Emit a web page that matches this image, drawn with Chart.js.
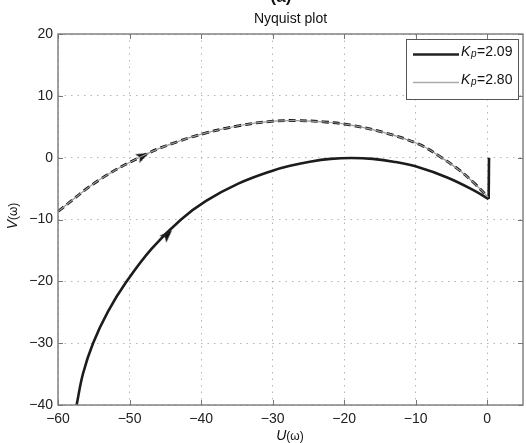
<!DOCTYPE html>
<html><head><meta charset="utf-8">
<script src="https://cdn.jsdelivr.net/npm/chart.js@4.4.1/dist/chart.umd.min.js"></script>
<style>html,body{margin:0;padding:0;background:#fff;overflow:hidden}#wrap{position:relative;width:526px;height:443px}</style>
</head><body><div id="wrap"><canvas id="c" width="526" height="443"></canvas></div>
<script>
// ---- data ----
const xTicks = [-60, -50, -40, -30, -20, -10, 0];
const yTicks = [-40, -30, -20, -10, 0, 10, 20];

// K_p = 2.09 (solid black)
const solidU = [-57.4, -56.5, -55.1, -53.0, -50.4, -46.9, -42.8, -39.3, -34.8, -30.0, -27.4, -24.8, -21.9, -19.0, -16.0, -13.1, -9.6, -5.6, -2.0, 0.2];
const solidV = [-40.0, -34.9, -30.0, -24.85, -20.0, -14.7, -10.0, -7.0, -4.2, -2.1, -1.27, -0.65, -0.2, -0.05, -0.2, -0.65, -1.55, -3.2, -5.2, -6.7];
const tailU = [0.2, 0.25];
const tailV = [-6.7, 0.0];

// K_p = 2.80 (grey line with dashes)
const dashU = [-60.0, -54.1, -47.6, -43.5, -39.3, -34.6, -29.9, -26.6, -22.9, -19.2, -14.4, -9.6, -6.7, -3.8, -1.8, 0.15];
const dashV = [-8.7, -3.5, 0.6, 2.5, 4.0, 5.2, 5.9, 6.0, 5.8, 5.3, 4.05, 2.2, 0.25, -2.1, -4.15, -6.4];

// direction arrows
const arrowU = [-48.1, -44.7];
const arrowV = [0.3, -12.45];
const arrowRot = [64, 45];

const legendLabels = ['2.09', '2.80'];

const pts = (xs, ys) => xs.map((x, i) => ({x: x, y: ys[i]}));
const fmt = v => v < 0 ? '\u2212' + Math.abs(v) : String(v);
const FONT = '"Liberation Sans", Arial, Helvetica, sans-serif';

// arrow-head glyph (points up, rotated per point by Chart.js)
const arrowImg = document.createElement('canvas');
arrowImg.width = 16; arrowImg.height = 16;
(function () {
  const g = arrowImg.getContext('2d');
  g.fillStyle = '#111';
  g.beginPath();
  g.moveTo(8, 1.5); g.lineTo(12.8, 14.5); g.lineTo(8, 11.5); g.lineTo(3.2, 14.5);
  g.closePath(); g.fill();
})();

const deco = {
  id: 'deco',
  afterDraw(chart) {
    const ctx = chart.ctx, a = chart.chartArea;
    const xs = chart.scales.x, ys = chart.scales.y;
    ctx.save();
    // axes box
    ctx.strokeStyle = '#7a7a7a';
    ctx.lineWidth = 1.4;
    ctx.strokeRect(a.left, a.top, a.right - a.left, a.bottom - a.top);
    // inner ticks
    ctx.lineWidth = 1;
    ctx.strokeStyle = '#777';
    ctx.beginPath();
    xTicks.forEach(v => {
      const p = Math.round(xs.getPixelForValue(v)) + 0.5;
      ctx.moveTo(p, a.bottom); ctx.lineTo(p, a.bottom - 5);
      ctx.moveTo(p, a.top); ctx.lineTo(p, a.top + 5);
    });
    yTicks.forEach(v => {
      const p = Math.round(ys.getPixelForValue(v)) + 0.5;
      ctx.moveTo(a.left, p); ctx.lineTo(a.left + 5, p);
      ctx.moveTo(a.right, p); ctx.lineTo(a.right - 5, p);
    });
    ctx.stroke();

    // legend
    const bx = 406, by = 39, bw = 112, bh = 60;
    ctx.fillStyle = '#fff';
    ctx.fillRect(bx, by, bw, bh);
    ctx.strokeStyle = '#555';
    ctx.lineWidth = 1;
    ctx.strokeRect(bx + 0.5, by + 0.5, bw, bh);
    const rows = [{y: 54.5, color: '#222', w: 2.6}, {y: 82.5, color: '#aaa', w: 1.5}];
    rows.forEach((r, i) => {
      ctx.strokeStyle = r.color; ctx.lineWidth = r.w;
      ctx.beginPath(); ctx.moveTo(413, r.y); ctx.lineTo(459, r.y); ctx.stroke();
      ctx.fillStyle = '#111';
      ctx.textBaseline = 'alphabetic'; ctx.textAlign = 'left';
      ctx.font = 'italic 14px ' + FONT;
      ctx.fillText('K', 461, r.y + 1);
      ctx.font = 'italic 10px ' + FONT;
      ctx.fillText('p', 471, r.y + 2.5);
      ctx.font = '14px ' + FONT;
      ctx.fillText('=' + legendLabels[i], 477, r.y + 1);
    });

    // title and "(a)"
    ctx.fillStyle = '#111';
    ctx.textAlign = 'center';
    ctx.font = '14px ' + FONT;
    ctx.fillText('Nyquist plot', (a.left + a.right) / 2, 23);
    ctx.font = 'bold 17px ' + FONT;
    ctx.fillText('(a)', 281, 2);

    // x axis label U(ω)
    ctx.textAlign = 'left';
    ctx.font = 'italic 14px ' + FONT;
    const uw = ctx.measureText('U').width;
    ctx.font = '12px ' + FONT;
    const ow = ctx.measureText('(\u03c9)').width;
    let sx = 290 - (uw + ow) / 2;
    ctx.font = 'italic 14px ' + FONT;
    ctx.fillText('U', sx, 440);
    ctx.font = '12px ' + FONT;
    ctx.fillText('(\u03c9)', sx + uw, 440);

    // y axis label V(ω)
    ctx.translate(17, 216);
    ctx.rotate(-Math.PI / 2);
    ctx.font = 'italic 14px ' + FONT;
    const vw = ctx.measureText('V').width;
    sx = -(vw + ow) / 2;
    ctx.fillText('V', sx, 0);
    ctx.font = '12px ' + FONT;
    ctx.fillText('(\u03c9)', sx + vw, 0);
    ctx.restore();
  }
};

new Chart(document.getElementById('c'), {
  type: 'scatter',
  data: {
    datasets: [
      {data: pts(dashU, dashV), showLine: true, borderColor: '#9a9a9a', borderWidth: 1.2, pointRadius: 0, tension: 0.4},
      {data: pts(dashU, dashV), showLine: true, borderColor: '#111', borderWidth: 2.8, borderDash: [7, 4], pointRadius: 0, tension: 0.4},
      {data: pts(solidU, solidV), showLine: true, borderColor: '#1c1c1c', borderWidth: 2.6, pointRadius: 0, tension: 0.4},
      {data: pts(tailU, tailV), showLine: true, borderColor: '#1c1c1c', borderWidth: 2.6, pointRadius: 0, tension: 0},
      {data: pts(arrowU, arrowV), showLine: false, pointStyle: arrowImg, pointRadius: 8, pointRotation: arrowRot}
    ]
  },
  options: {
    responsive: false,
    animation: false,
    devicePixelRatio: 1,
    layout: {autoPadding: false, padding: {top: 34, right: 3, left: 0, bottom: 0}},
    plugins: {legend: {display: false}, title: {display: false}, tooltip: {enabled: false}},
    scales: {
      x: {
        type: 'linear', min: -60, max: 5,
        afterBuildTicks: s => { s.ticks = xTicks.map(v => ({value: v})); },
        afterFit: s => { s.height = 38; s.paddingLeft = 0; s.paddingRight = 0; },
        grid: {color: '#b5b5b5', lineWidth: 1, drawTicks: false},
        border: {display: false, dash: [1.5, 5]},
        ticks: {padding: 6, color: '#222', font: {family: FONT, size: 14}, callback: v => fmt(v), maxRotation: 0, autoSkip: false}
      },
      y: {
        type: 'linear', min: -40, max: 20,
        afterBuildTicks: s => { s.ticks = yTicks.map(v => ({value: v})); },
        afterFit: s => { s.width = 58; s.paddingTop = 0; s.paddingBottom = 0; },
        grid: {color: '#b5b5b5', lineWidth: 1, drawTicks: false},
        border: {display: false, dash: [1.5, 5]},
        ticks: {padding: 5, color: '#222', font: {family: FONT, size: 14}, callback: v => fmt(v), autoSkip: false}
      }
    }
  },
  plugins: [deco]
});
</script>
</body></html>
